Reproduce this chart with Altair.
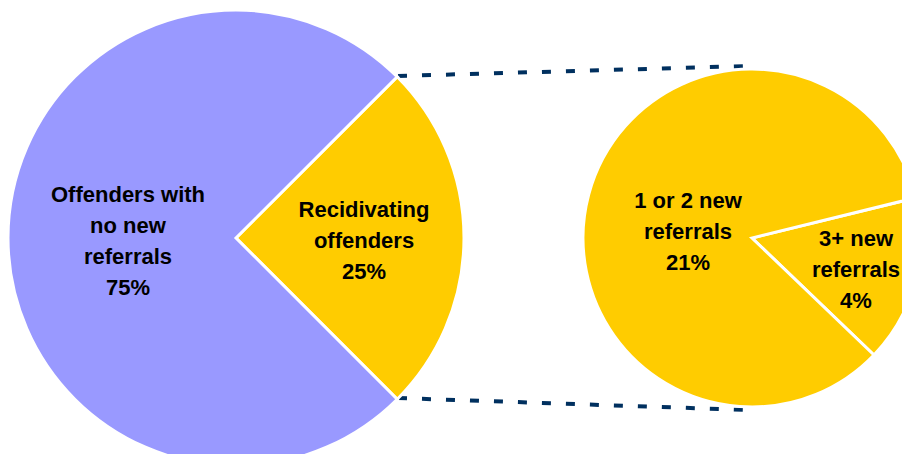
import math
import altair as alt
import pandas as pd

# ---- data ----
left_categories = ["Recidivating offenders", "Offenders with no new referrals"]
left_values = [25, 75]
left_colors = ["#FFCC00", "#9999FF"]

right_categories = ["3+ new referrals", "1 or 2 new referrals"]
right_values = [4, 21]
right_colors = ["#FFCC00", "#FFCC00"]

left_labels = ["Recidivating\noffenders\n25%", "Offenders with\nno new\nreferrals\n75%"]
right_labels = ["3+ new\nreferrals\n4%", "1 or 2 new\nreferrals\n21%"]

left_df = pd.DataFrame({"cat": left_categories, "value": left_values,
                        "color": left_colors, "ord": [0, 1]})
right_df = pd.DataFrame({"cat": right_categories, "value": right_values,
                         "color": right_colors, "ord": [0, 1]})

W, H = 894, 446
FONT = "Liberation Sans"
NAVY = "#00305F"


def pie(df, cx, cy, r, start):
    return alt.Chart(df).mark_arc(
        outerRadius=r, stroke="white", strokeWidth=3
    ).encode(
        theta=alt.Theta("value:Q", stack=True,
                        scale=alt.Scale(range=[start, start + 2 * math.pi])),
        color=alt.Color("color:N", scale=None, legend=None),
        order=alt.Order("ord:Q"),
        x=alt.value(cx),
        y=alt.value(cy),
    )


def label(text, x, y):
    return alt.Chart(pd.DataFrame({"t": [text]})).mark_text(
        font=FONT, fontSize=22, fontWeight="bold", color="black",
        lineBreak="\n", lineHeight=31, align="center", baseline="middle",
    ).encode(text="t:N", x=alt.value(x), y=alt.value(y))


def dashed(x1, y1, x2, y2):
    return alt.Chart(pd.DataFrame({"a": [0]})).mark_rule(
        color=NAVY, strokeWidth=4, strokeDash=[9, 15]
    ).encode(x=alt.value(x1), y=alt.value(y1), x2=alt.value(x2), y2=alt.value(y2))


left_pie = pie(left_df, 228, 230, 228, math.pi / 4)
right_pie = pie(right_df, 744, 230, 169, 1.33)

chart = alt.layer(
    dashed(390, 68, 740, 58),
    dashed(390, 390, 740, 402),
    left_pie,
    right_pie,
    label(left_labels[1], 120, 187),
    label(left_labels[0], 356, 202),
    label(right_labels[1], 680, 193),
    label(right_labels[0], 848, 231),
).resolve_scale(theta="independent").properties(
    width=W, height=H, padding=0, autosize=alt.AutoSizeParams(type="none")
).configure_view(stroke=None)

chart.save("out.html", embed_options={"renderer": "svg", "actions": False})
